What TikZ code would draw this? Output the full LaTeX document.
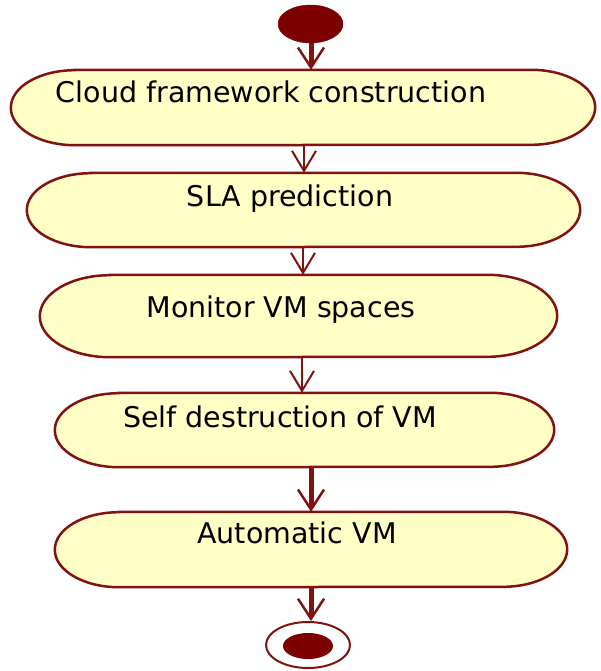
\documentclass[tikz,border=0pt]{standalone}
\usepackage{fontspec}
\setmainfont{DejaVu Sans}
\usetikzlibrary{arrows.meta,shapes.geometric,calc}
\definecolor{boxfill}{RGB}{255,255,198}
\definecolor{maroonline}{RGB}{128,18,18}
\definecolor{maroonfill}{RGB}{125,0,0}
\tikzset{
  activity/.style={rectangle, inner sep=0pt},
  boxline/.style={draw=maroonline, line width=2.5pt, fill=boxfill},
  label/.style={anchor=base, inner sep=0pt, font=\fontsize{28.5}{34}\selectfont, text=black},
  thinarr/.style={draw=maroonline, line width=2pt, -{Straight Barb[length=20pt,width=24pt,line width=2pt]}},
  thickarr/.style={draw=maroonline, line width=5pt, -{Straight Barb[length=20pt,width=26pt,line width=2.5pt]}},
}
% #1 node name, #2 horizontal radius of the ends, #3 half height
\newcommand\stadiumpath[3]{%
  \draw[boxline] ($(#1.north west)+(#2,0)$) -- ($(#1.north east)+(-#2,0)$)
    arc[start angle=-90,end angle=90,x radius=#2,y radius=#3]
    -- ($(#1.south west)+(#2,0)$)
    arc[start angle=90,end angle=270,x radius=#2,y radius=#3] -- cycle;}
\begin{document}
\begin{tikzpicture}[x=1pt,y=-1pt]
\useasboundingbox (0,0) rectangle (600,671);
% start
\node[ellipse, fill=maroonfill, draw=maroonfill, minimum width=65pt, minimum height=38pt, inner sep=0pt] (start) at (310.5,24) {};
% activities (frames)
\node[activity, minimum width=584pt, minimum height=75pt] (b1) at (303,107.5) {};
\node[activity, minimum width=553pt, minimum height=74pt] (b2) at (303.5,210) {};
\node[activity, minimum width=517pt, minimum height=82pt] (b3) at (298.5,316) {};
\node[activity, minimum width=499pt, minimum height=74pt] (b4) at (304.5,430) {};
\node[activity, minimum width=512pt, minimum height=75pt] (b5) at (311,549.5) {};
\stadiumpath{b1}{64}{37.5}
\stadiumpath{b2}{64}{37}
\stadiumpath{b3}{70}{41}
\stadiumpath{b4}{64}{37}
\stadiumpath{b5}{64}{37.5}
% texts
\node[label] (t1) at (271,103) {Cloud framework construction};
\node[label] (t2) at (290,206) {SLA prediction};
\node[label] (t3) at (281,317) {Monitor VM spaces};
\node[label] (t4) at (280,427) {Self destruction of VM};
\node[label] (t5) at (297,543) {Automatic VM};
% end
\node[ellipse, draw=maroonline, line width=2pt, fill=white, minimum width=84pt, minimum height=46pt, inner sep=0pt] (endo) at (308,645) {};
\node[ellipse, fill=maroonfill, minimum width=50pt, minimum height=26pt, inner sep=0pt] (endi) at (308,646) {};
% arrow columns
\coordinate (c1) at (311,0);
\coordinate (c2) at (304,0);
\coordinate (c3) at (303,0);
\coordinate (c4) at (302,0);
\coordinate (c5) at (311,0);
\coordinate (c6) at (311,0);
\draw[thickarr] (start.south -| c1) -- (b1.north -| c1);
\draw[thinarr] (b1.south -| c2) -- (b2.north -| c2);
\draw[thinarr] (b2.south -| c3) -- (b3.north -| c3);
\draw[thinarr] (b3.south -| c4) -- (b4.north -| c4);
\draw[thickarr] (b4.south -| c5) -- (b5.north -| c5);
\draw[thickarr] (b5.south -| c6) -- (endo.north -| c6);
\end{tikzpicture}
\end{document}
